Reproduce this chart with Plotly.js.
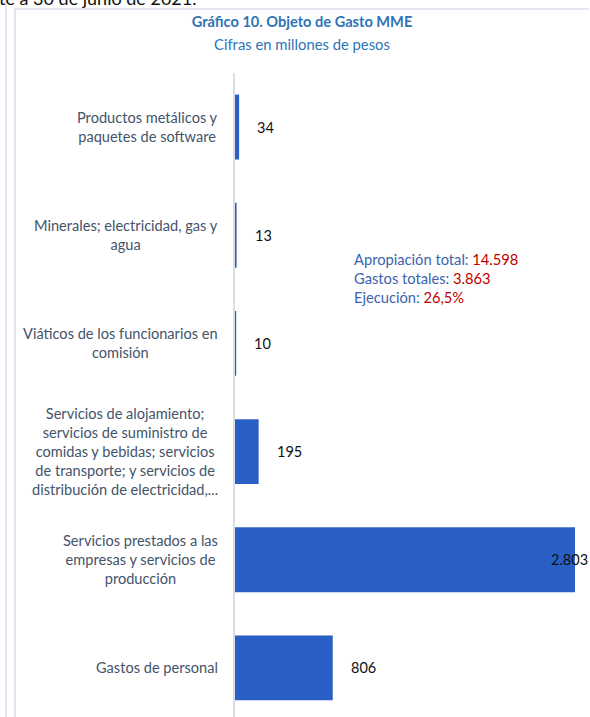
<!DOCTYPE html>
<html>
<head>
<meta charset="utf-8">
<script src="https://cdn.plot.ly/plotly-3.0.1.min.js"></script>
<style>
  html, body { margin: 0; padding: 0; width: 590px; height: 717px; overflow: hidden; background: #fff; }
  #chart { position: absolute; left: 0; top: 0; width: 590px; height: 730px; }
  .frame { position: absolute; background: #e2e6ee; }
  #toptext { position: absolute; left: -1px; top: -13px; font-family: Lato, "Open Sans", sans-serif; font-size: 18px; color: #111; white-space: nowrap; z-index: 5; }
</style>
</head>
<body>
<div id="chart"></div>
<div class="frame" style="left:5px; top:0; width:2px; height:717px;"></div>
<div class="frame" style="left:14px; top:9px; width:2px; height:708px;"></div>
<div class="frame" style="left:14px; top:8px; width:575px; height:2px;"></div>
<div id="toptext">te a 30 de junio de 2021.</div>
<script>
// Data
const categories = [
  "Productos metálicos y<br>paquetes de software",
  "Minerales; electricidad, gas y<br>agua",
  "Viáticos de los funcionarios en<br>comisión",
  "Servicios de alojamiento;<br>servicios de suministro de<br>comidas y bebidas; servicios<br>de transporte; y servicios de<br>distribución de electricidad,...",
  "Servicios prestados a las<br>empresas y servicios de<br>producción",
  "Gastos de personal"
];
const values = [34, 13, 10, 195, 2803, 806];
const summaryLabels = ["Apropiación total: ", "Gastos totales: ", "Ejecución: "];
const summaryValues = ["14.598", "3.863", "26,5%"];
const titleText = "Gráfico 10. Objeto de Gasto MME";
const subtitleText = "Cifras en millones de pesos";

function fmt(v) {
  return String(v).replace(/\B(?=(\d{3})+(?!\d))/g, ".");
}

const FONT = "Lato, 'Open Sans', sans-serif";
const maxV = Math.max(...values);

const trace = {
  type: "bar",
  orientation: "h",
  y: categories,
  x: values,
  width: 0.6,
  marker: { color: "#2a5fc6", line: { width: 0 } },
  hoverinfo: "none"
};

const annotations = [];
// category labels
categories.forEach((c) => {
  annotations.push({
    xref: "paper", yref: "y", x: 0, y: c,
    xanchor: "right", yanchor: "middle", xshift: -15,
    text: c, showarrow: false, align: "center",
    font: { family: FONT, size: 14.6, color: "#44546a" }
  });
});
// value labels
values.forEach((v, i) => {
  const isMax = v === maxV;
  annotations.push({
    xref: "x", yref: "y", x: v, y: categories[i],
    xanchor: isMax ? "right" : "left", yanchor: "middle",
    xshift: isMax ? 15 : 16,
    text: fmt(v), showarrow: false,
    font: { family: FONT, size: 14.5, color: "#111" }
  });
});
// summary box
annotations.push({
  xref: "paper", yref: "paper", x: 0.345, y: 0.73,
  xanchor: "left", yanchor: "top", align: "left", showarrow: false,
  text: summaryLabels.map((l, i) =>
    '<span style="color:#3b63b0">' + l + '</span><span style="color:#c00000">' + summaryValues[i] + '</span>').join("<br>"),
  font: { family: FONT, size: 14.7, color: "#3b63b0" }
});
// subtitle
annotations.push({
  xref: "paper", yref: "paper", x: (302 - 235) / 340, y: 1 + (73 - 44) / 649,
  xanchor: "center", yanchor: "middle", showarrow: false,
  text: subtitleText,
  font: { family: FONT, size: 14.8, color: "#2e74b5" }
});

const layout = {
  width: 590, height: 730,
  margin: { l: 235, r: 15, t: 73, b: 8 },
  paper_bgcolor: "rgba(0,0,0,0)",
  plot_bgcolor: "rgba(0,0,0,0)",
  title: {
    text: "<b>" + titleText + "</b>",
    xref: "container", yref: "container",
    x: 302 / 590, xanchor: "center",
    y: 1 - 22 / 730, yanchor: "middle",
    font: { family: FONT, size: 14.6, color: "#2e74b5" }
  },
  xaxis: {
    range: [0, maxV], showgrid: false, zeroline: false,
    showticklabels: false, showline: false, fixedrange: true
  },
  yaxis: {
    type: "category", autorange: "reversed",
    showticklabels: false, showgrid: false, zeroline: false,
    showline: true, linecolor: "#d8dde6", linewidth: 2, ticks: ""
  },
  showlegend: false,
  annotations: annotations,
  bargap: 0.4
};

Plotly.newPlot("chart", [trace], layout, { displayModeBar: false, staticPlot: true });
</script>
</body>
</html>
